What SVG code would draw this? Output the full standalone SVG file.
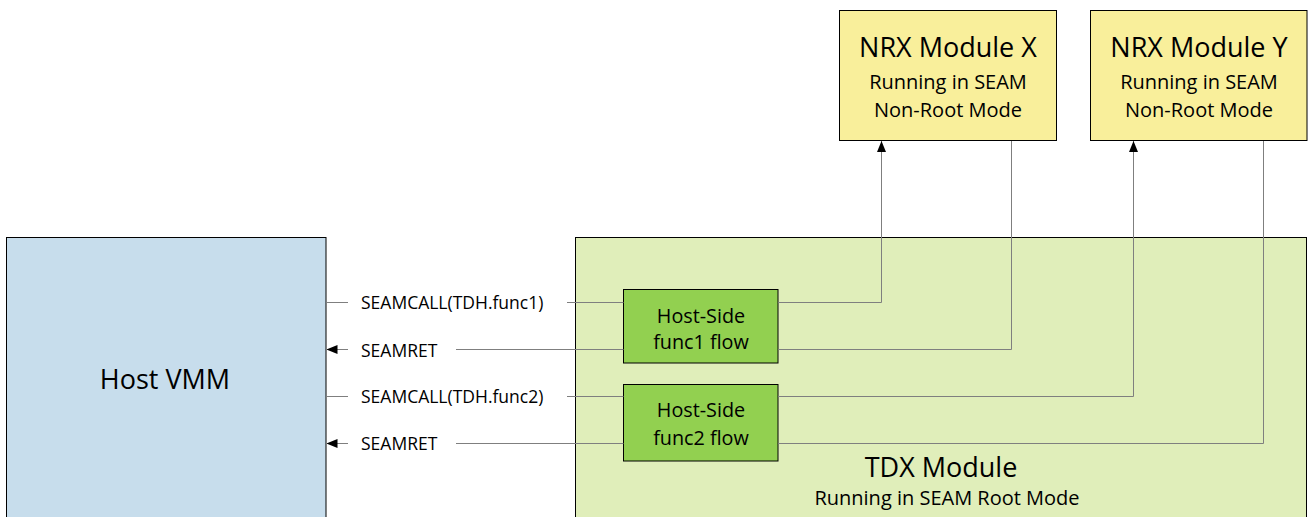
<svg xmlns="http://www.w3.org/2000/svg" width="1309" height="517" viewBox="0 0 1309 517">
<style>
text{font-family:"Open Sans","Noto Sans",sans-serif;fill:#000;text-anchor:middle}
.box{stroke:#000;stroke-width:1}
.conn{stroke:#7f7f7f;stroke-width:1;fill:none}
.big{font-size:27px}
.sub{font-size:20px}
.lbl{font-size:17.5px;text-anchor:start}
.inner{font-size:19.8px}
</style>
<defs>
<marker id="ah" viewBox="0 0 11 10" refX="11" refY="5" markerWidth="11" markerHeight="10" markerUnits="userSpaceOnUse" orient="auto">
<path d="M0,0.5 L11,5 L0,9.5 Z" fill="#000"/>
</marker>
</defs>
<rect width="1309" height="517" fill="#fff"/>

<g id="host-vmm">
<rect class="box" x="6.5" y="237.5" width="319.5" height="300" fill="#c7ddec"/>
<text class="big" x="165" y="389">Host VMM</text>
</g>

<g id="tdx-module">
<rect class="box" x="575.5" y="237.5" width="731" height="300" fill="#e0eeba"/>
<text class="big" x="941" y="477">TDX Module</text>
<text class="sub" x="947" y="505">Running in SEAM Root Mode</text>
</g>

<g id="nrx-x">
<rect class="box" x="839.5" y="10.5" width="217" height="130" fill="#f9ef9b"/>
<text class="big" x="948" y="57">NRX Module X</text>
<text class="sub" x="948" y="89">Running in SEAM</text>
<text class="sub" x="948" y="117">Non-Root Mode</text>
</g>

<g id="nrx-y">
<rect class="box" x="1090.5" y="10.5" width="216.5" height="130" fill="#f9ef9b"/>
<text class="big" x="1199" y="57">NRX Module Y</text>
<text class="sub" x="1199" y="89">Running in SEAM</text>
<text class="sub" x="1199" y="117">Non-Root Mode</text>
</g>

<g id="func1-flow">
<rect class="box" x="623.5" y="289.5" width="154.5" height="73.5" fill="#92d050"/>
<text class="inner" x="701" y="322.5">Host-Side</text>
<text class="inner" x="701" y="348.5">func1 flow</text>
</g>

<g id="func2-flow">
<rect class="box" x="623.5" y="384.5" width="154.5" height="76.5" fill="#92d050"/>
<text class="inner" x="701" y="417">Host-Side</text>
<text class="inner" x="701" y="445">func2 flow</text>
</g>

<g id="connectors">
<line class="conn" x1="326" y1="302.5" x2="348" y2="302.5"/>
<line class="conn" x1="567" y1="302.5" x2="623.5" y2="302.5"/>
<line class="conn" x1="623.5" y1="349.5" x2="456" y2="349.5"/>
<line class="conn" x1="348" y1="349.5" x2="326.5" y2="349.5" marker-end="url(#ah)"/>
<line class="conn" x1="326" y1="396.5" x2="348" y2="396.5"/>
<line class="conn" x1="567" y1="396.5" x2="623.5" y2="396.5"/>
<line class="conn" x1="623.5" y1="443.5" x2="456" y2="443.5"/>
<line class="conn" x1="348" y1="443.5" x2="326.5" y2="443.5" marker-end="url(#ah)"/>
<polyline class="conn" points="778,302.5 881.5,302.5 881.5,141" marker-end="url(#ah)"/>
<polyline class="conn" points="1011.5,141 1011.5,349.5 778,349.5"/>
<polyline class="conn" points="778,396.5 1133.5,396.5 1133.5,141" marker-end="url(#ah)"/>
<polyline class="conn" points="1263.5,141 1263.5,443.5 778,443.5"/>
<text class="lbl" x="361" y="308.5">SEAMCALL(TDH.func1)</text>
<text class="lbl" x="361" y="356.5">SEAMRET</text>
<text class="lbl" x="361" y="402.5">SEAMCALL(TDH.func2)</text>
<text class="lbl" x="361" y="450">SEAMRET</text>
</g>
</svg>
